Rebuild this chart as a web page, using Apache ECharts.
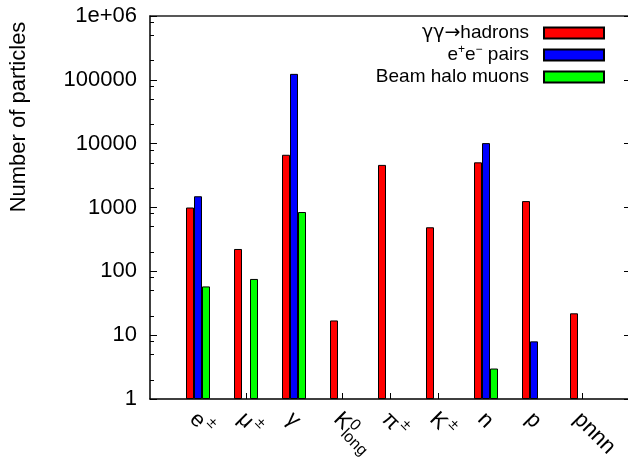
<!DOCTYPE html>
<html>
<head>
<meta charset="utf-8">
<script src="https://cdn.jsdelivr.net/npm/echarts@6/dist/echarts.min.js"></script>
<style>
  html, body { margin: 0; padding: 0; background: #fff; }
  #chart { width: 628px; height: 457px; }
</style>
</head>
<body>
<div id="chart"></div>
<script>
// particle types along x
const categories = ['e±', 'μ±', 'γ', 'K0long', 'π±', 'K±', 'n', 'p', 'pnnn']
// rich text versions of the tick labels
const xLabels = ['{b|e}{s|±}', '{b|μ}{s|±}', '{b|γ}', '{b|K}{k0|0}{kl|long}', '{b|π}{s|±}', '{b|K}{s|±}', '{b|n}', '{b|p}', '{b|pnnn}']

const hadrons = [1000, 224, 6700, 17, 4650, 490, 5100, 1260, 22]
const pairs = [1500, null, 124000, null, null, null, 10200, 8, null]
const muons = [58, 76, 850, null, null, null, 3, null, null]

const seriesNames = ['γγ→hadrons', 'e+e- pairs', 'Beam halo muons']
const legendLabels = ['{g|γγ→}{t|hadrons}', '{t|e}{u|+}{t|e}{u|−}{t| pairs}', '{t|Beam halo muons}']
const yMajor = [1, 10, 100, 1000, 10000, 100000, 1000000]
const yMinorSteps = [2, 5, 8]

const font = 'Liberation Sans'

const toPoints = arr => arr.map((v, i) => (v == null ? null : [i, v])).filter(p => p)

const yMinor = []
yMajor.slice(0, -1).forEach(d => yMinorSteps.forEach(m => yMinor.push(d * m)))

const chart = echarts.init(document.getElementById('chart'))

const bar = (name, data, color) => ({
    name: name,
    type: 'bar',
    data: toPoints(data),
    barWidth: 8,
    barGap: '0%',
    itemStyle: { color: color, borderColor: '#000', borderWidth: 1 },
    emphasis: { disabled: true }
})

const logAxis = extra => Object.assign({
    type: 'log',
    logBase: 10,
    min: 1,
    max: 1000000,
    splitLine: { show: false },
    axisLabel: { show: false }
}, extra)

const option = {
    animation: false,
    textStyle: { fontFamily: font },
    grid: { left: 150, top: 16, width: 480, height: 383, containLabel: false, outerBoundsMode: 'none' },
    legend: {
        orient: 'vertical',
        right: 18,
        top: 17,
        align: 'right',
        icon: 'rect',
        itemWidth: 60,
        itemHeight: 11,
        itemGap: 0,
        formatter: name => legendLabels[seriesNames.indexOf(name)],
        textStyle: {
            fontFamily: font, fontSize: 19, color: '#000', lineHeight: 22, padding: [0, 10, 0, 0],
            rich: {
                t: { fontFamily: font, fontSize: 19, color: '#000', lineHeight: 22 },
                g: { fontFamily: 'DejaVu Sans', fontSize: 19, color: '#000', lineHeight: 22 },
                u: { fontFamily: font, fontSize: 12, color: '#000', verticalAlign: 'top', lineHeight: 14 }
            }
        }
    },
    xAxis: [{
        type: 'value',
        min: -1,
        max: 9,
        interval: 1,
        splitLine: { show: false },
        axisLine: { onZero: false, lineStyle: { color: '#000', width: 1.5 } },
        axisTick: { inside: true, length: 6, customValues: [0, 1, 2, 3, 4, 5, 6, 7, 8], lineStyle: { color: '#000' } },
        axisLabel: {
            customValues: [0, 1, 2, 3, 4, 5, 6, 7, 8],
            rotate: -45,
            margin: 12,
            formatter: v => xLabels[v],
            rich: {
                // main glyph pushed down by padding so the superscripts sit higher
                b: { fontFamily: font, fontSize: 22, color: '#000', lineHeight: 26, padding: [14, 0, 0, 0] },
                s: { fontFamily: font, fontSize: 15, color: '#000', verticalAlign: 'top', align: 'left', padding: [4, 0, 0, 2] },
                k0: { fontFamily: font, fontSize: 16, color: '#000', verticalAlign: 'top', align: 'left', padding: [15, 0, 0, 0], width: 1 },
                kl: { fontFamily: font, fontSize: 16, color: '#000', verticalAlign: 'bottom', align: 'left', padding: [28, 0, 0, 0] }
            }
        }
    }, {
        type: 'value',
        position: 'top',
        min: -1,
        max: 9,
        splitLine: { show: false },
        axisLine: { onZero: false, lineStyle: { color: '#222', width: 1.5 } },
        axisTick: { show: false },
        axisLabel: { show: false }
    }],
    yAxis: [logAxis({
        position: 'left',
        axisLine: { show: true, onZero: false, lineStyle: { color: '#000', width: 1.5 } },
        axisTick: { inside: true, length: 7, lineStyle: { color: '#000' } },
        axisLabel: {
            margin: 13,
            fontFamily: font,
            fontSize: 22,
            color: '#000',
            formatter: v => (v >= 1000000 ? '1e+06' : String(v))
        }
    }), logAxis({
        position: 'left',
        axisLine: { show: false, onZero: false },
        axisTick: { inside: true, length: 4, customValues: yMinor, lineStyle: { color: '#000' } }
    }), logAxis({
        position: 'right',
        axisLine: { show: true, onZero: false, lineStyle: { color: '#000', width: 1.5 } },
        axisTick: { inside: true, length: 6, lineStyle: { color: '#000' } }
    })],
    graphic: [{
        type: 'text',
        x: 19,
        y: 117,
        rotation: Math.PI / 2,
        style: {
            text: 'Number of particles',
            fontFamily: font,
            fontSize: 22,
            fill: '#000',
            textAlign: 'center',
            textVerticalAlign: 'middle'
        }
    }],
    series: [
        bar(seriesNames[0], hadrons, '#ff0000'),
        bar(seriesNames[1], pairs, '#0000ff'),
        bar(seriesNames[2], muons, '#00ff00')
    ]
}

chart.setOption(option)
</script>
</body>
</html>
